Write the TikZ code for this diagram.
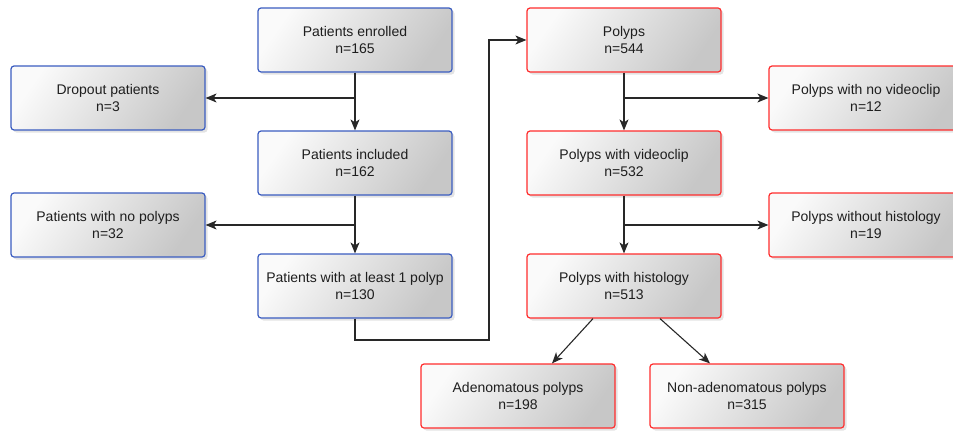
\documentclass[tikz,border=0pt]{standalone}
\usepackage{fontspec}
\setmainfont{Liberation Sans}
\usetikzlibrary{arrows.meta,shadows}
\definecolor{patblue}{RGB}{58,92,192}
\definecolor{polred}{RGB}{255,45,45}
\definecolor{txtgray}{RGB}{30,30,30}
\definecolor{linegray}{RGB}{40,40,40}
\begin{document}
\begin{tikzpicture}[x=1pt,y=-1pt,
  box/.style={rectangle, rounded corners=3pt, align=center, line width=1.2pt,
    minimum width=194pt, minimum height=64pt, inner sep=0pt,
    font=\fontsize{14}{17}\selectfont, text=txtgray,
    top color=black!2, bottom color=black!22, shading angle=55,
    drop shadow={opacity=0.22, shadow xshift=2.5pt, shadow yshift=-2.5pt}},
  patbox/.style={box, draw=patblue},
  polbox/.style={box, draw=polred},
  flow/.style={draw=linegray, line width=1.1pt, -{Stealth[length=11pt,width=9pt,inset=3pt]}}]
\useasboundingbox (0,0) rectangle (953,431);
\clip (0,0) rectangle (953,431);
% patients
\node[patbox] (enrolled) at (355,40) {Patients enrolled\\n=165};
\node[patbox] (dropout) at (108,98) {Dropout patients\\n=3};
\node[patbox] (included) at (355,163) {Patients included\\n=162};
\node[patbox] (nopolyps) at (108,225) {Patients with no polyps\\n=32};
\node[patbox] (atleast) at (355,286) {Patients with at least 1 polyp\\n=130};
% polyps
\node[polbox] (polyps) at (624,40) {Polyps\\n=544};
\node[polbox] (novideo) at (866,98) {Polyps with no videoclip\\n=12};
\node[polbox] (withvideo) at (624,163) {Polyps with videoclip\\n=532};
\node[polbox] (nohisto) at (866,225) {Polyps without histology\\n=19};
\node[polbox] (withhisto) at (624,286) {Polyps with histology\\n=513};
\node[polbox] (adeno) at (518,396) {Adenomatous polyps\\n=198};
\node[polbox] (nonadeno) at (747,396) {Non-adenomatous polyps\\n=315};
\coordinate (loop) at (489,340);
\draw[flow] (enrolled) -- (included);
\draw[flow] (enrolled.south |- dropout.east) -- (dropout.east);
\draw[flow] (included) -- (atleast);
\draw[flow] (included.south |- nopolyps.east) -- (nopolyps.east);
\draw[flow] (atleast.south) |- (loop) |- (polyps.west);
\draw[flow] (polyps) -- (withvideo);
\draw[flow] (polyps.south |- novideo.west) -- (novideo.west);
\draw[flow] (withvideo) -- (withhisto);
\draw[flow] (withvideo.south |- nohisto.west) -- (nohisto.west);
\draw[flow] ([xshift=-31pt]withhisto.south) -- ([xshift=34pt]adeno.north);
\draw[flow] ([xshift=36pt]withhisto.south) -- ([xshift=-37pt]nonadeno.north);
\end{tikzpicture}
\end{document}
